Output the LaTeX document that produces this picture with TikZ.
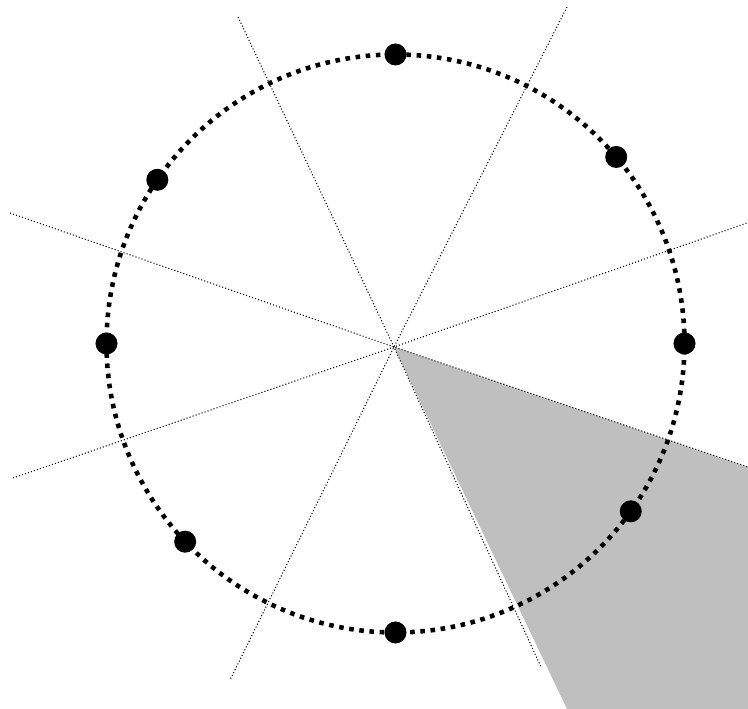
\documentclass[tikz,border=0pt]{standalone}
\usepackage{tikz}
\usetikzlibrary{calc}

\begin{document}
\begin{tikzpicture}[x=0.01cm,y=0.01cm,
    ring/.style={line width=1.3pt, dash pattern=on 1.3pt off 1.6pt},
    ray/.style={line width=0.3pt, dash pattern=on 0.3pt off 0.6pt},
    dot/.style={circle, fill=black, inner sep=0pt, minimum size=0.22cm}]
  \useasboundingbox (0,0) rectangle (748,709);
  % Centres (circle and crossing point of the lines)
  \coordinate (C) at (395.5,365.5);
  \coordinate (O) at (394,362);
  % Ends of the four lines
  \coordinate (a1) at (238,692); \coordinate (a2) at (541,42);
  \coordinate (b1) at (567,702); \coordinate (b2) at (230,29);
  \coordinate (c1) at (10,496);  \coordinate (c2) at (748,242);
  \coordinate (d1) at (13,231);  \coordinate (d2) at (747,486);
  % Grey sector
  \fill[black!25] (O) -- (c2) -- (748,0) -- (567,0) -- cycle;
  % Lines through the centre
  \foreach \p in {a,b,c,d}
    \draw[ray] (\p1) -- (O) -- (\p2);
  % Circle
  \draw[ring] (C) circle[radius=289];
  % Points on the circle
  \foreach \a/\n in {0/p1,40.2/p2,90/p3,145.5/p4,180/p5,223.3/p6,270/p7,324.5/p8}
    \node[dot] (\n) at ($(C)+(\a:289)$) {};
\end{tikzpicture}
\end{document}
